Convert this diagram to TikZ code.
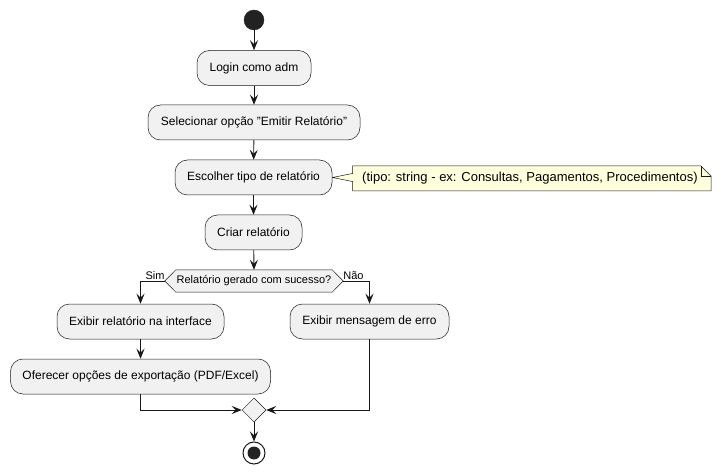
\documentclass[tikz,border=0pt]{standalone}
\usepackage{fontspec}
\setmainfont{Liberation Sans}
\usetikzlibrary{arrows.meta,calc,shapes.geometric}
\definecolor{actfill}{HTML}{F1F1F1}
\definecolor{lineclr}{HTML}{181818}
\definecolor{notefill}{HTML}{FEFFDD}
\definecolor{startclr}{HTML}{222222}
\pgfdeclarelayer{bg}
\pgfsetlayers{bg,main}
\begin{document}
\begin{tikzpicture}[x=1pt,y=-1pt,
  act/.style={draw=lineclr, fill=actfill, rounded corners=12.5pt, line width=0.5pt,
    inner sep=0pt, minimum height=35pt, font=\fontsize{12}{14}\selectfont, text=black},
  flow/.style={draw=lineclr, line width=0.9pt, -{Stealth[length=10pt,width=8pt,inset=4pt]}},
  lbl/.style={font=\fontsize{11}{13}\selectfont, inner sep=0pt, text=black},
  notetxt/.style={font=\fontsize{13}{15}\selectfont, inner sep=0pt, text=black}]
\useasboundingbox (0,0) rectangle (721,476);

% start
\node[circle, fill=startclr, draw=startclr, minimum size=20pt, inner sep=0pt] (start) at (254,20) {};

% activities
\node[act, minimum width=114pt] (a1) at (254,68) {Login como adm};
\node[act, minimum width=212pt] (a2) at (254,122.5) {Selecionar opção "Emitir Relatório"};
\node[act, minimum width=157pt] (a3) at (253.5,177.5) {Escolher tipo de relatório};
\node[act, minimum width=97pt] (a4) at (253.5,232.5) {Criar relatório};

% decision
\node[lbl, minimum width=156pt, minimum height=22pt] (dec) at (254,281) {Relatório gerado com sucesso?};
\coordinate (decL) at ($(dec.west)+(-11,0)$);
\coordinate (decR) at ($(dec.east)+(11,0)$);
\node[lbl, anchor=south east] (sim) at ($(decL)+(0,-1.5)$) {Sim};
\node[lbl, anchor=south west] (nao) at ($(decR)+(0,-1.5)$) {Não};

\node[act, minimum width=167pt] (a5) at (140.5,321.5) {Exibir relatório na interface};
\node[act, minimum width=159pt] (a6) at (369.5,321.5) {Exibir mensagem de erro};
\node[act, minimum width=260pt] (a7) at (140.5,376.5) {Oferecer opções de exportação (PDF/Excel)};

% merge
\node[diamond, aspect=1, draw=lineclr, fill=actfill, line width=0.5pt, minimum width=24pt, minimum height=24pt, inner sep=0pt] (merge) at (254,410) {};

% end
\node[circle, draw=lineclr, fill=white, line width=1pt, minimum size=22pt, inner sep=0pt] (stop) at (254,453) {};
\node[circle, fill=startclr, minimum size=13pt, inner sep=0pt] (stopin) at (stop.center) {};

% note
\node[notetxt, anchor=west] (note) at (362,178.5) {(tipo: string - ex: Consultas, Pagamentos, Procedimentos)};

\begin{pgfonlayer}{bg}
\fill[white] (0,0) rectangle (721,476);
\draw[draw=lineclr, fill=actfill, line width=0.5pt] (decL) -- (dec.north west) -- (dec.north east) -- (decR) -- (dec.south east) -- (dec.south west) -- cycle;
\draw[draw=lineclr, fill=notefill, line width=0.5pt]
  (352.5,166) -- (701,166) -- (711,176) -- (711,191) -- (352.5,191) -- (352.5,181.5)
  -- (a3.east) -- (352.5,173.5) -- cycle;
\draw[draw=lineclr, line width=0.5pt] (701,166) -- (701,176) -- (711,176);
\end{pgfonlayer}

% flows
\draw[flow] (start) -- (a1);
\draw[flow] (a1) -- (a2);
\draw[flow] (a2) -- (a3);
\draw[flow] (a3) -- (a4);
\draw[flow] (a4) -- (dec.north);
\draw[flow] (decL) -| (a5.north);
\draw[flow] (decR) -| (a6.north);
\draw[flow] (a5) -- (a7);
\draw[flow] (a7.south) |- (merge.west);
\draw[flow] (a6.south) |- (merge.east);
\draw[flow] (merge) -- (stop);
\end{tikzpicture}
\end{document}
